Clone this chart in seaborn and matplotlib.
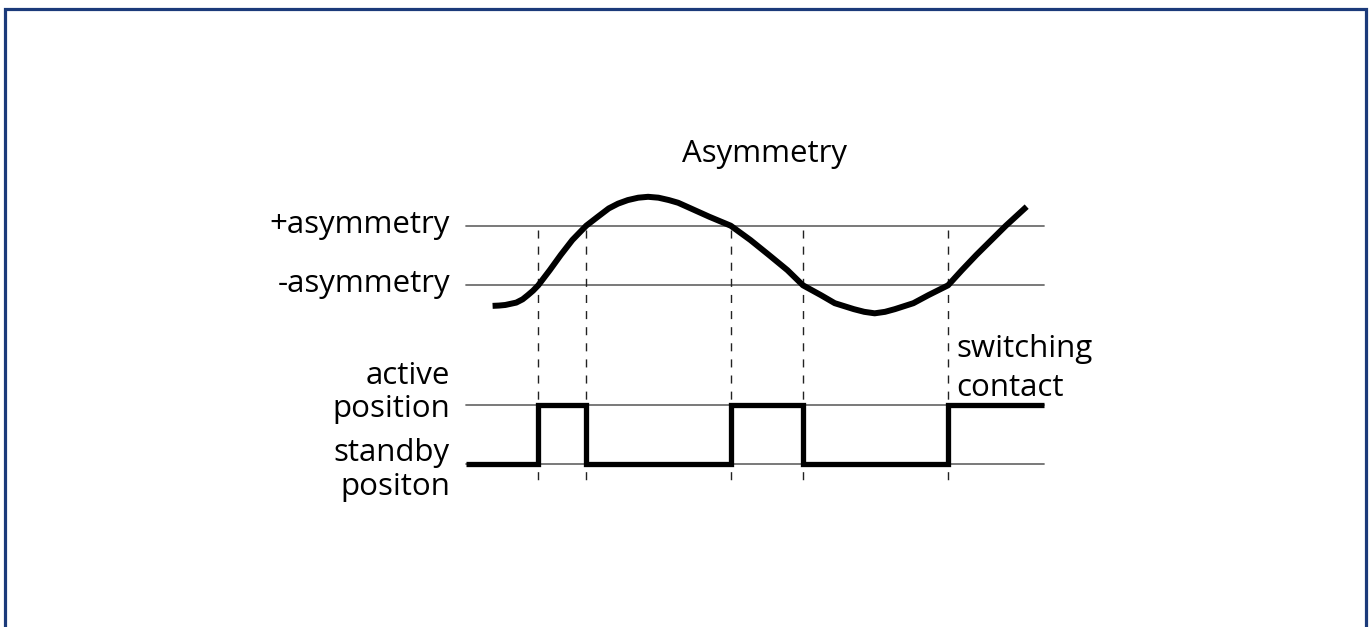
import matplotlib
matplotlib.use("Agg")
import matplotlib.pyplot as plt
from matplotlib.patches import Rectangle
import seaborn as sns
import pandas as pd

# signal (time in % of the window, amplitude in units of the asymmetry threshold)
curve_t = [4.6, 5.7, 6.8, 8.7, 9.8, 10.7, 11.6, 12.5, 14.5, 16.4, 18.4, 20.8, 22.8, 24.7,
           26.3, 28.0, 29.8, 31.5, 33.3, 35.1, 36.7, 38.2, 42.1, 45.8, 49.2, 52.4, 55.6,
           58.3, 61.4, 63.8, 67.1, 68.9, 70.7, 72.5, 74.2, 77.4, 80.0, 83.4, 85.8, 88.3,
           90.9, 93.4, 97.0]
curve_s = [-1.69, -1.68, -1.66, -1.58, -1.47, -1.33, -1.18, -1.0, -0.49, 0.02, 0.52, 1.0,
           1.30, 1.58, 1.74, 1.86, 1.94, 1.97, 1.94, 1.86, 1.77, 1.64, 1.30, 1.0, 0.52,
           0.02, -0.49, -1.0, -1.33, -1.60, -1.80, -1.89, -1.94, -1.89, -1.80, -1.60,
           -1.33, -1.0, -0.49, 0.02, 0.52, 1.0, 1.64]

plus_asym = 1.0
minus_asym = -1.0

# switching contact: 0 = standby, 1 = active
switch_t = [0, 12.5, 20.8, 45.8, 58.3, 83.4, 100]
switch_state = [0, 1, 0, 1, 0, 1, 1]
standby_level = -7.0
active_level = -5.0

t_start, t_end = 0, 100

sns.set_style("white")
plt.rcParams["font.family"] = ["Open Sans", "DejaVu Sans"]
plt.rcParams["text.color"] = "black"
plt.rcParams["lines.scale_dashes"] = False

fig = plt.figure(figsize=(13.71, 6.27), dpi=100)
ax = fig.add_axes([0, 0, 1, 1])
ax.set_xlim(-80.62, 156.57)
ax.set_ylim(-12.466, 8.574)
ax.axis("off")

# reference levels
for lvl in [plus_asym, minus_asym, active_level, standby_level]:
    ax.plot([t_start, t_end], [lvl, lvl], color="#6e6e6e", lw=1.3, zorder=1)

# switching instants
for t in switch_t[1:-1]:
    ax.plot([t, t], [0.86, -7.65], color="#222222", lw=1.0,
            linestyle=(0, (5.8, 5.8)), zorder=1)

curve = pd.DataFrame({"t": curve_t, "s": curve_s})
sns.lineplot(data=curve, x="t", y="s", ax=ax, color="black", lw=4.3,
             solid_capstyle="butt", solid_joinstyle="round", zorder=3)

sw = pd.DataFrame({"t": switch_t,
                   "level": [standby_level + st * (active_level - standby_level) for st in switch_state]})
sns.lineplot(data=sw, x="t", y="level", ax=ax, color="black", lw=3.8,
             drawstyle="steps-post", solid_capstyle="butt", solid_joinstyle="miter", zorder=3)

fs = 22.5
lab_x = -2.77
ax.text(51.7, 3.14, "Asymmetry", fontsize=fs, ha="center", va="baseline")
ax.text(lab_x, 0.755, "+asymmetry", fontsize=fs, ha="right", va="baseline")
ax.text(lab_x, -1.215, "-asymmetry", fontsize=fs, ha="right", va="baseline")
ax.text(lab_x, -4.31, "active", fontsize=fs, ha="right", va="baseline")
ax.text(lab_x, -5.43, "position", fontsize=fs, ha="right", va="baseline")
ax.text(lab_x, -6.89, "standby", fontsize=fs, ha="right", va="baseline")
ax.text(lab_x, -8.04, "positon", fontsize=fs, ha="right", va="baseline")
ax.text(84.9, -3.40, "switching", fontsize=fs, ha="left", va="baseline")
ax.text(84.9, -4.71, "contact", fontsize=fs, ha="left", va="baseline")

# frame of the figure panel (bottom edge is cut off)
fig.add_artist(Rectangle((5 / 1371, -0.1), 1361 / 1371, 1.1 - 9 / 627,
                         transform=fig.transFigure, fill=False,
                         edgecolor="#1b3a7a", lw=2.3, clip_on=False))

fig.savefig("out.png", dpi=100)
